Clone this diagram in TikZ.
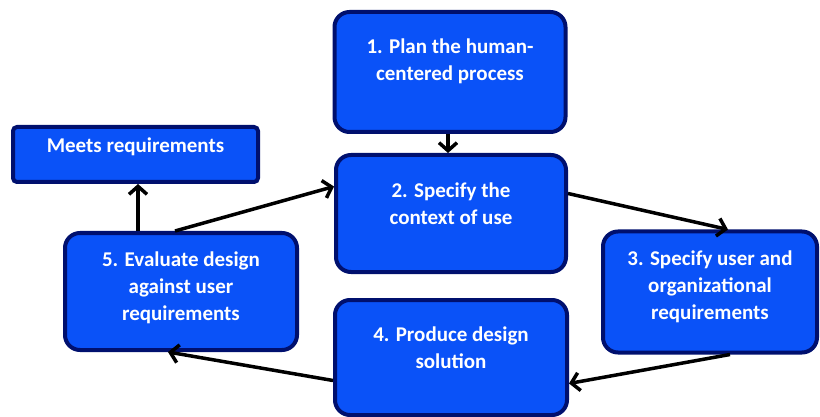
\documentclass[tikz,border=0pt]{standalone}
\usepackage{fontspec}
\setmainfont{Carlito}
\usetikzlibrary{arrows.meta}
\definecolor{boxfill}{RGB}{10,82,248}
\definecolor{boxline}{RGB}{0,16,110}
\begin{document}
\begin{tikzpicture}[x=1pt,y=-1pt,
  box/.style={draw=boxline,fill=boxfill,line width=4pt,rounded corners=15pt,inner sep=0pt},
  flatbox/.style={box,rounded corners=4pt},
  txt/.style={text=white,font=\fontsize{21}{27}\selectfont\bfseries,align=center,inner sep=0pt},
  conn/.style={line width=3.5pt,draw=black,-{Straight Barb[length=8pt,width=18pt,line width=3.5pt]}}]
\useasboundingbox (0,0) rectangle (820,417);
% boxes
\node[box,minimum width=231pt,minimum height=120pt] (b1) at (450,72) {};
\node[box,minimum width=230pt,minimum height=117pt] (b2) at (451,213.5) {};
\node[box,minimum width=214pt,minimum height=121pt] (b3) at (710,292) {};
\node[box,minimum width=232pt,minimum height=115pt] (b4) at (451,357.5) {};
\node[box,minimum width=232pt,minimum height=117pt] (b5) at (181,291.5) {};
\node[flatbox,minimum width=245pt,minimum height=55pt] (bm) at (135.5,154.5) {};
% texts
\node[txt] (t1) at (450,61) {1. Plan the human-\\centered process};
\node[txt] (t2) at (451,204) {2. Specify the\\context of use};
\node[txt] (t3) at (710,287) {3. Specify user and\\organizational\\requirements};
\node[txt] (t4) at (451,348) {4. Produce design\\solution};
\node[txt] (t5) at (181,288) {5. Evaluate design\\against user\\requirements};
\node[txt] (tm) at (135.5,147) {Meets requirements};
% connectors
\draw[conn] ([xshift=-2pt]b1.south) -- ([xshift=-3pt]b2.north);
\draw[conn] ([xshift=-6pt]b5.north) -- ([yshift=27pt]b2.west);
\draw[conn] ([xshift=-43pt]b5.north) -- ([xshift=2.5pt]bm.south);
\draw[conn] ([yshift=20pt]b2.east) -- ([xshift=18pt]b3.north);
\draw[conn] ([xshift=20pt]b3.south) -- ([yshift=-26pt]b4.east);
\draw[conn] ([yshift=-23pt]b4.west) -- ([xshift=-13pt]b5.south);
\end{tikzpicture}
\end{document}
